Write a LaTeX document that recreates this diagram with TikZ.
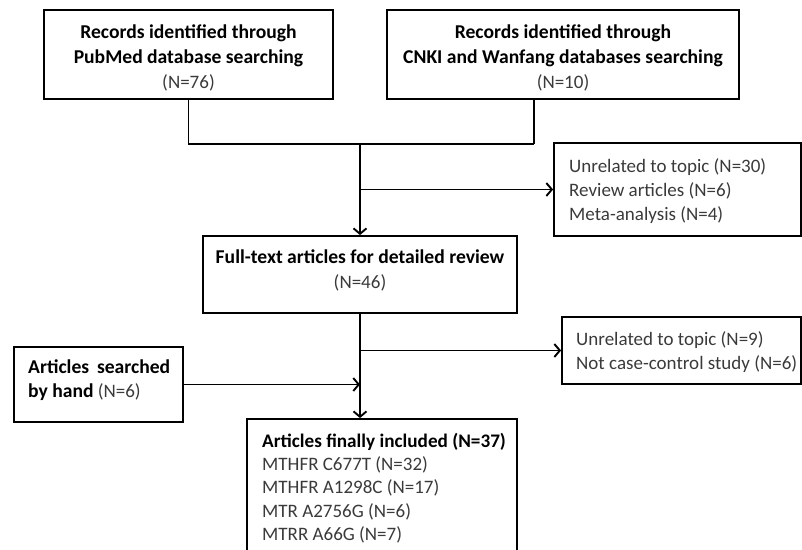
\documentclass[tikz,border=0pt]{standalone}
\usepackage{fontspec}
\setmainfont{Carlito}
\usetikzlibrary{arrows.meta}
\definecolor{txtgray}{HTML}{3A3A3A}
\newcommand{\bt}[1]{{\fontsize{19.6}{25}\selectfont\bfseries #1}}
\newcommand{\gt}[1]{{\color{txtgray}#1}}
\begin{document}
\begin{tikzpicture}[x=1pt,y=-1pt,
  box/.style={draw, line width=1.8pt, inner sep=0pt},
  ctxt/.style={inner sep=0pt, align=center, font=\fontsize{19}{25}\selectfont},
  txt/.style={inner sep=0pt, align=left, font=\fontsize{19}{24}\selectfont, text=txtgray},
  conn/.style={line width=1.8pt},
  arr/.style={conn, -{Straight Barb[length=5.5pt,width=13pt,line width=1.9pt]}}]
\useasboundingbox (0,0) rectangle (802,549);
\begin{scope}
\clip (0,0) rectangle (802,549);
\node[box, minimum width=289pt, minimum height=89pt] (pub) at (188.5,54.5) {};
\node[ctxt] (pubtext) at (188.5,57.5)
  {\bt{Records identified through}\\\bt{PubMed database searching}\\\gt{(N=76)}};
\node[box, minimum width=352pt, minimum height=89pt] (cnki) at (563,54.5) {};
\node[ctxt] (cnkitext) at (563,57.5)
  {\bt{Records identified through}\\\bt{CNKI and Wanfang databases searching}\\\gt{(N=10)}};
\node[box, minimum width=247pt, minimum height=93pt] (ex1) at (677.5,189.5) {};
\node[txt, anchor=west] (ex1text) at (569,191)
  {Unrelated to topic (N=30)\\Review articles (N=6)\\Meta-analysis (N=4)};
\node[box, minimum width=314pt, minimum height=77pt] (full) at (360,274.5) {};
\node[ctxt] (fulltext) at (360,270.5)
  {\bt{Full-text articles for detailed review}\\\gt{(N=46)}};
\node[box, minimum width=169pt, minimum height=75pt] (hand) at (98.5,384.5) {};
\node[txt, anchor=west, text=black] (handtext) at (28,380.5)
  {\hbox to 142pt{\bt{Articles}\hfill\bt{searched}}\\\bt{by hand} \gt{(N=6)}};
\node[box, minimum width=239pt, minimum height=67pt] (ex2) at (681.5,350.5) {};
\node[txt, anchor=west] (ex2text) at (576,352.5)
  {Unrelated to topic (N=9)\\Not case-control study (N=6)};
\node[box, minimum width=270pt, minimum height=181pt] (fin) at (382,509.5) {};
\node[txt, anchor=north west, font=\fontsize{19}{23.2}\selectfont] (fintext) at (262,433)
  {\textcolor{black}{\fontsize{19.2}{23.2}\selectfont\bfseries Articles finally included (N=37)}\\
   MTHFR C677T (N=32)\\
   MTHFR A1298C (N=17)\\
   MTR A2756G (N=6)\\
   MTRR A66G (N=7)};
\coordinate (cj) at (534,144);
\coordinate (join) at (360,144);
\coordinate (b1) at (360,189.5);
\coordinate (b2) at (360,350.5);
\draw[conn] (pub.south) |- (cj);
\draw[conn] (cnki.south -| cj) -- (cj);
\draw[arr] (join) -- (full.north);
\draw[arr] (b1) -- (ex1.west);
\draw[arr] (full.south) -- (full.south |- fin.north);
\draw[arr] (b2) -- (ex2.west);
\draw[arr] (hand.east) -- (hand.east -| full.south);
\end{scope}
\end{tikzpicture}
\end{document}
